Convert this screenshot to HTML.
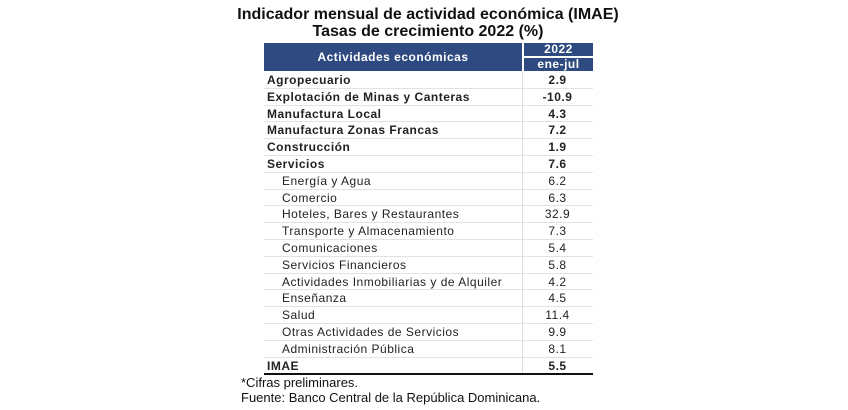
<!DOCTYPE html>
<html><head><meta charset="utf-8"><style>
body{margin:0;width:848px;height:410px;background:#fff;position:relative;overflow:hidden;font-family:"Liberation Sans",sans-serif;}
.t{position:absolute;left:0;width:856px;text-align:center;font-weight:bold;font-size:16px;color:#111;}
.hd{position:absolute;background:#2e4a80;color:#fff;font-weight:bold;font-size:12px;text-align:center;letter-spacing:0.5px;}
.r{position:absolute;left:264px;width:329px;height:16.8px;border-bottom:1px solid #e2e2e2;box-sizing:border-box;font-size:12px;color:#222;letter-spacing:0.5px;}
.r span{position:absolute;top:1px;}
.r .v{left:258px;width:71px;text-align:center;}
.b{font-weight:bold;}
.f{position:absolute;left:241px;font-size:13px;color:#111;}
</style></head><body>
<div class="t" style="top:6px">Indicador mensual de actividad económica (IMAE)</div>
<div class="t" style="top:23px">Tasas de crecimiento 2022 (%)</div>
<div class="hd" style="left:264px;top:43px;width:258px;height:28px;line-height:28px">Actividades económicas</div>
<div class="hd" style="left:524px;top:43px;width:69px;height:13px;line-height:13px">2022</div>
<div class="hd" style="left:524px;top:58px;width:69px;height:13px;line-height:13px">ene-jul</div>
<div style="position:absolute;left:522px;top:72px;width:1px;height:302px;background:#ddd"></div>
<div id="rows"></div>
<div style="position:absolute;left:264px;top:373px;width:329px;height:1.5px;background:#111"></div>
<div class="f" style="top:375px">*Cifras preliminares.</div>
<div class="f" style="top:390px">Fuente: Banco Central de la República Dominicana.</div>
<script>
var d=[["Agropecuario","2.9",1],["Explotación de Minas y Canteras","-10.9",1],["Manufactura Local","4.3",1],["Manufactura Zonas Francas","7.2",1],["Construcción","1.9",1],["Servicios","7.6",1],["Energía y Agua","6.2",0],["Comercio","6.3",0],["Hoteles, Bares y Restaurantes","32.9",0],["Transporte y Almacenamiento","7.3",0],["Comunicaciones","5.4",0],["Servicios Financieros","5.8",0],["Actividades Inmobiliarias y de Alquiler","4.2",0],["Enseñanza","4.5",0],["Salud","11.4",0],["Otras Actividades de Servicios","9.9",0],["Administración Pública","8.1",0],["IMAE","5.5",1]];
var h="";d.forEach(function(x,i){h+='<div class="r'+(x[2]?' b':'')+'" style="top:'+(72+i*16.8)+'px"><span style="left:'+(x[2]?3:18)+'px">'+x[0]+'</span><span class="v">'+x[1]+'</span></div>';});
document.getElementById("rows").innerHTML=h;
</script>
</body></html>
